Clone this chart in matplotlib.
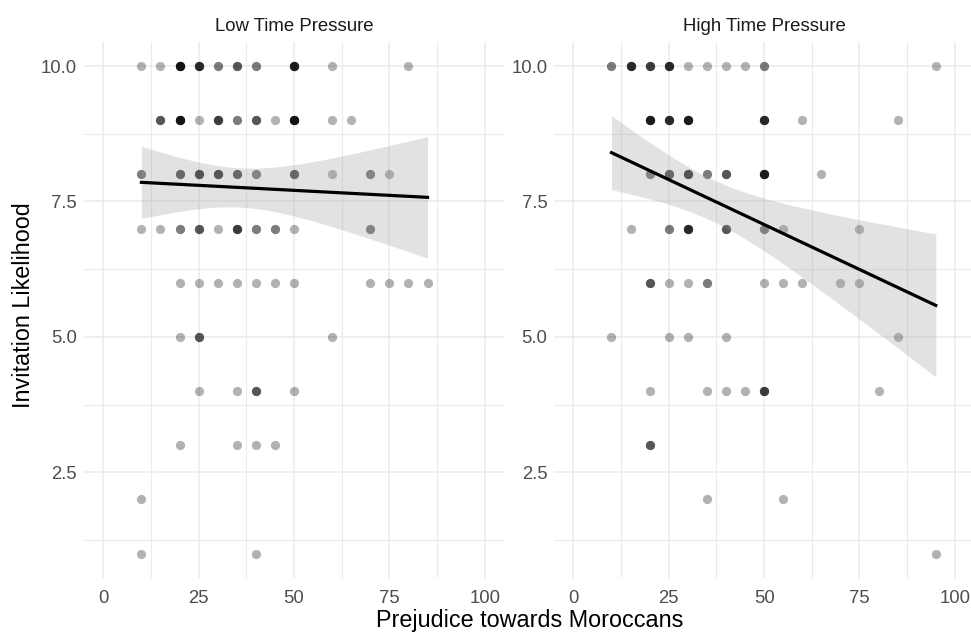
import numpy as np
import matplotlib
matplotlib.use("Agg")
import matplotlib.pyplot as plt

plt.rcParams["font.family"] = ["Liberation Sans", "DejaVu Sans"]

# (x, y, count); darker dots = several overlapping points
panels = ["Low Time Pressure", "High Time Pressure"]

low_x = [10, 15, 20, 25, 30, 35, 40, 50, 60, 80,
         15, 20, 25, 30, 35, 40, 45, 50, 60, 65,
         10, 20, 25, 30, 35, 40, 50, 60, 70, 75,
         10, 15, 20, 25, 30, 35, 40, 45, 50, 70,
         20, 25, 30, 35, 40, 45, 50, 70, 75, 80, 85,
         20, 25, 60,
         25, 35, 40, 50,
         20, 35, 40, 45,
         10,
         10, 40]
low_y = [10] * 10 + [9] * 10 + [8] * 10 + [7] * 10 + [6] * 11 + [5] * 3 + [4] * 4 + [3] * 4 + [2] + [1] * 2
low_n = [1, 1, 7, 5, 2, 3, 2, 6, 1, 1,
         3, 7, 1, 4, 2, 3, 1, 7, 1, 1,
         2, 3, 4, 4, 3, 2, 3, 1, 2, 1,
         1, 1, 2, 3, 1, 4, 2, 2, 1, 2,
         1, 1, 1, 1, 1, 1, 1, 1, 1, 1, 1,
         1, 3, 1,
         1, 1, 3, 1,
         1, 1, 1, 1,
         1,
         1, 1]

high_x = [10, 15, 20, 25, 30, 35, 40, 45, 50, 95,
          20, 25, 30, 50, 60, 85,
          20, 25, 30, 35, 40, 50, 65,
          15, 25, 30, 40, 50, 55, 75,
          20, 25, 30, 35, 50, 55, 60, 70, 75,
          10, 25, 30, 40, 85,
          20, 35, 40, 45, 50, 80,
          20,
          35, 55,
          95]
high_y = [10] * 10 + [9] * 6 + [8] * 7 + [7] * 7 + [6] * 9 + [5] * 5 + [4] * 6 + [3] + [2] * 2 + [1]
high_n = [2, 5, 4, 5, 1, 1, 1, 1, 2, 1,
          6, 5, 6, 5, 1, 1,
          2, 3, 4, 2, 3, 6, 1,
          1, 2, 5, 3, 2, 1, 1,
          3, 1, 1, 2, 1, 1, 1, 1, 1,
          1, 1, 1, 1, 1,
          1, 1, 1, 1, 4, 1,
          3,
          1, 1,
          1]

x_ticks = [0, 25, 50, 75, 100]
y_ticks = [2.5, 5.0, 7.5, 10.0]

fig = plt.figure(figsize=(9.71, 6.34), dpi=100)
axes = [fig.add_axes([0.0867, 0.0883, 0.4322, 0.846]),
        fig.add_axes([0.5708, 0.0883, 0.4322, 0.846])]

data = [(low_x, low_y, low_n), (high_x, high_y, high_n)]

for ax, title, (xs, ys, ns) in zip(axes, panels, data):
    x = np.repeat(xs, ns).astype(float)
    y = np.repeat(ys, ns).astype(float)

    # one marker per observation, so overlaps darken like in ggplot
    ax.scatter(x, y, s=44, color="black", alpha=0.3, linewidths=0, zorder=2)

    # linear fit with 95% confidence band
    n = len(x)
    slope, icpt = np.polyfit(x, y, 1)
    resid = y - (icpt + slope * x)
    s = np.sqrt(np.sum(resid ** 2) / (n - 2))
    df = n - 2
    tcrit = 1.96 + (1.96 ** 3 + 1.96) / (4 * df)
    xg = np.linspace(x.min(), x.max(), 100)
    yg = icpt + slope * xg
    se = s * np.sqrt(1 / n + (xg - x.mean()) ** 2 / np.sum((x - x.mean()) ** 2))
    ax.fill_between(xg, yg - tcrit * se, yg + tcrit * se, color="#999999",
                    alpha=0.28, linewidth=0, zorder=3)
    ax.plot(xg, yg, color="black", lw=2.3, zorder=4)

    ax.set_xlim(-5, 105)
    ax.set_ylim(0.55, 10.45)
    ax.set_xticks(x_ticks)
    ax.set_xticks([12.5, 37.5, 62.5, 87.5], minor=True)
    ax.set_yticks(y_ticks)
    ax.set_yticks([1.25, 3.75, 6.25, 8.75], minor=True)
    ax.set_yticklabels(["%.1f" % v for v in y_ticks])
    ax.grid(which="major", color="#ebebeb", lw=1.1)
    ax.grid(which="minor", color="#ebebeb", lw=0.8)
    ax.set_axisbelow(True)
    for sp in ax.spines.values():
        sp.set_visible(False)
    ax.tick_params(which="both", length=0, labelsize=13.3, colors="#4d4d4d")
    ax.tick_params(axis="x", pad=8.5)
    ax.tick_params(axis="y", pad=5)
    ax.set_title(title, fontsize=13.4, color="#1a1a1a", pad=8)

fig.text(0.0242, 0.518, "Invitation Likelihood", rotation=90, ha="center", va="center",
         fontsize=16.8, color="black")
fig.text(0.545, 0.022, "Prejudice towards Moroccans", ha="center", va="center",
         fontsize=16.8, color="black")

fig.savefig("out.png", dpi=100)
